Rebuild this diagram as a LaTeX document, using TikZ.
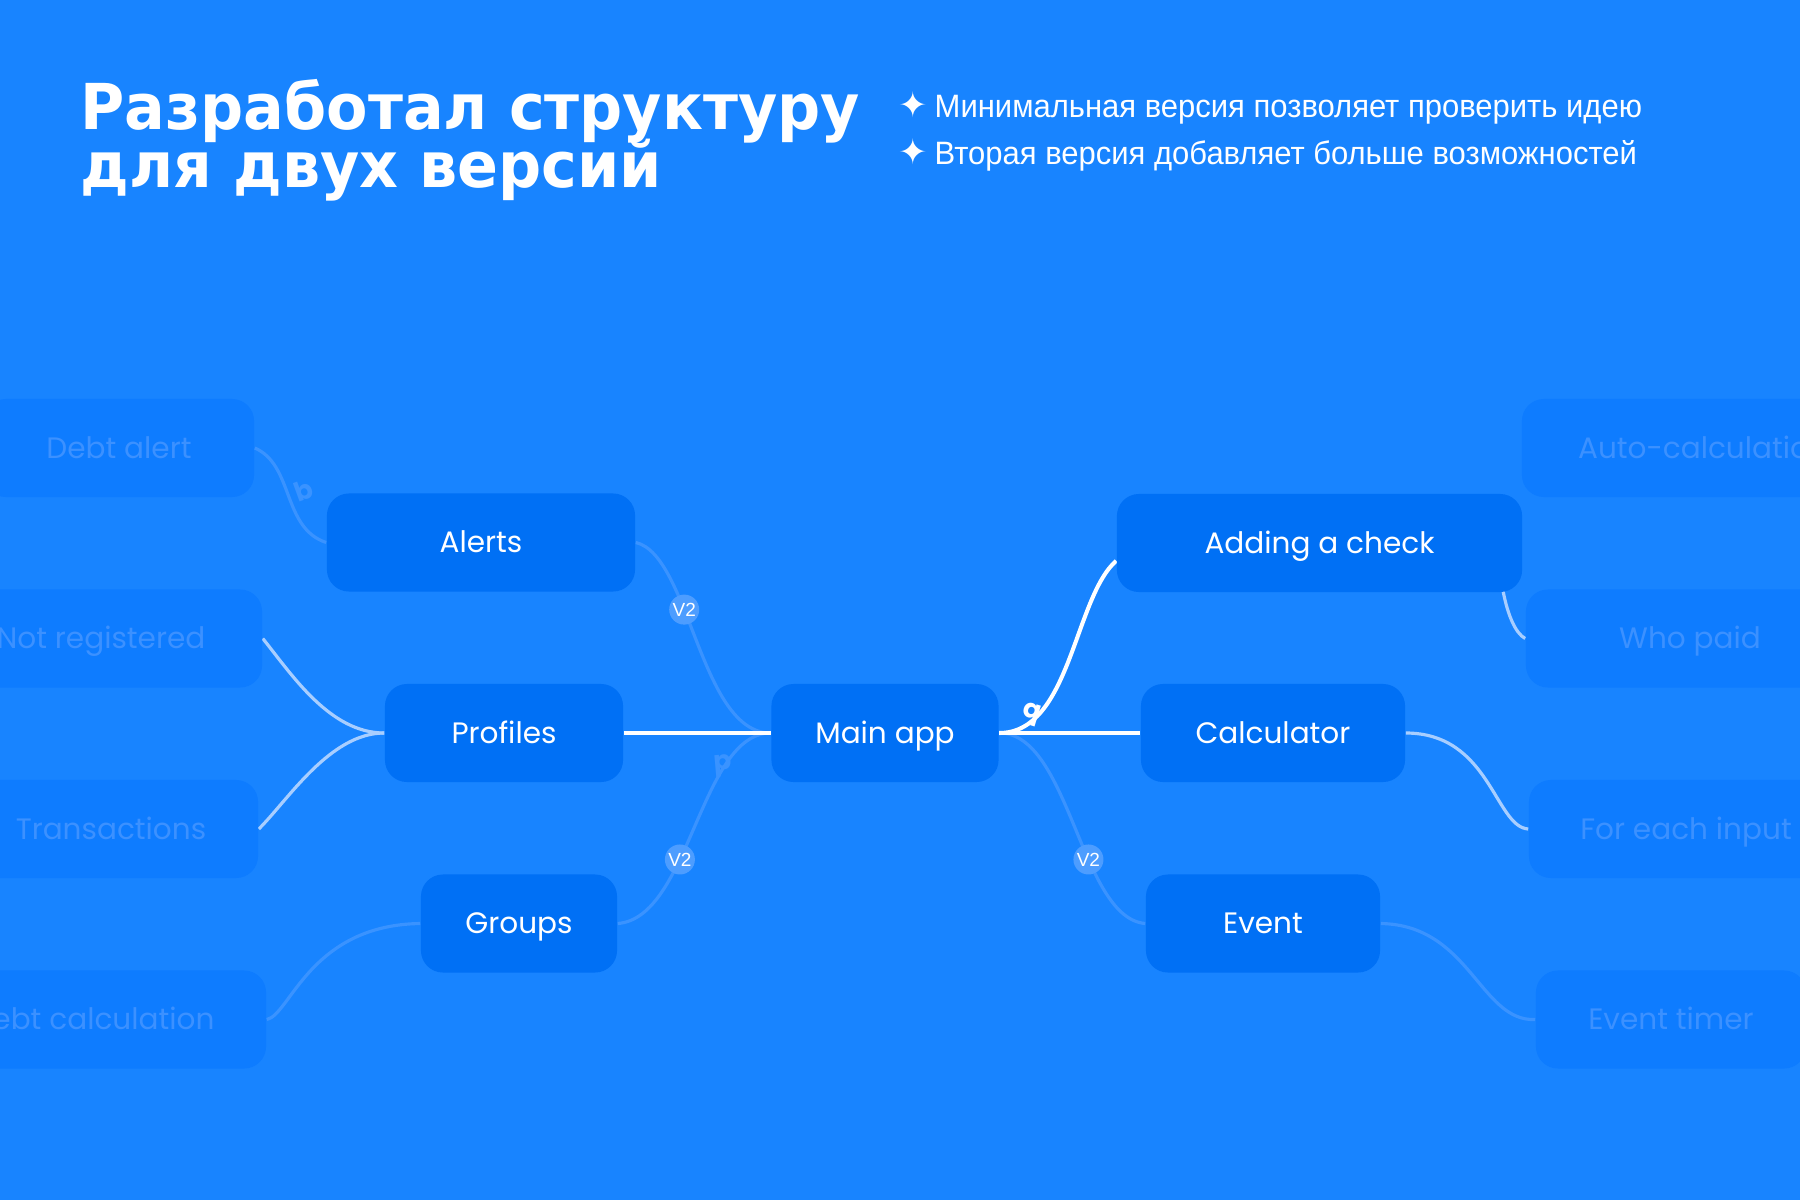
\documentclass[tikz,border=0pt]{standalone}
\usepackage{fontspec}
\setmainfont{Liberation Sans}
\newfontfamily\titlefont{DejaVu Sans}
\newfontfamily\boxfont{Poppins}
\usepackage{tikz}
\pgfdeclarelayer{back}
\pgfsetlayers{back,main}
\definecolor{bgblue}{HTML}{1884FF}
\definecolor{boxblue}{HTML}{0070F5}
\definecolor{ghostfill}{HTML}{0E7CFF}
\definecolor{ghosttext}{HTML}{3C91FF}
\definecolor{fadeline}{HTML}{3A93FF}
\definecolor{lightline}{HTML}{A8CEFF}
\definecolor{badgefill}{HTML}{4D9DFF}

\begin{document}
\begin{tikzpicture}[x=0.01cm, y=-0.01cm,
  box/.style={fill=boxblue, text=white, rounded corners=0.22cm, minimum height=0.98cm, inner sep=0pt,
    text height=5.9pt, text depth=0pt, font=\boxfont\fontsize{8.4}{10}\selectfont},
  ghost/.style={box, fill=ghostfill, text=ghosttext},
  v2/.style={circle, fill=badgefill, text=white, minimum size=0.3cm, inner sep=0pt, font=\fontsize{5.4}{6}\selectfont},
  link/.style={white, line width=1.15pt},
  sublink/.style={lightline, line width=0.9pt},
  faint/.style={fadeline, line width=0.9pt},
  squiggle/.style={inner sep=0pt, font=\boxfont\bfseries\fontsize{7.5}{8}\selectfont}]
  \useasboundingbox (0,0) rectangle (1800,1200);
  \clip (0,0) rectangle (1800,1200);
  \begin{pgfonlayer}{back}
    \fill[bgblue] (0,0) rectangle (1800,1200);
  \end{pgfonlayer}

  % heading and the two points
  \node[anchor=base west, inner sep=0pt, text=white, font=\titlefont\bfseries\fontsize{18}{20}\selectfont] (title1) at (80,129) {\scalebox{0.953}[1]{Разработал структуру}};
  \node[anchor=base west, inner sep=0pt, text=white, font=\titlefont\bfseries\fontsize{18}{20}\selectfont] (title2) at (80,187) {\scalebox{0.953}[1]{для двух версий}};
  \node[inner sep=0pt, text=white, font=\titlefont\fontsize{10}{11}\selectfont] (star1) at (913,105) {✦};
  \node[inner sep=0pt, text=white, font=\titlefont\fontsize{10}{11}\selectfont] (star2) at (913,152) {✦};
  \node[anchor=base west, inner sep=0pt, text=white, font=\fontsize{9.2}{11}\selectfont] (point1) at (934,117) {\scalebox{0.958}[1]{Минимальная версия позволяет проверить идею}};
  \node[anchor=base west, inner sep=0pt, text=white, font=\fontsize{9.2}{11}\selectfont] (point2) at (934,164) {\scalebox{0.958}[1]{Вторая версия добавляет больше возможностей}};

  % mind map
  \node[box, minimum width=2.27cm] (main) at (885,733) {Main app};
  \node[box, minimum width=3.08cm] (alerts) at (481,542.5) {Alerts};
  \node[box, minimum width=2.38cm] (profiles) at (504,733) {Profiles};
  \node[box, minimum width=1.96cm] (groups) at (519,923.5) {Groups};
  \node[box, minimum width=4.05cm] (check) at (1319.5,543) {Adding a check};
  \node[box, minimum width=2.64cm] (calc) at (1273,733) {Calculator};
  \node[box, minimum width=2.34cm] (event) at (1263,923.5) {Event};

  \node[ghost, minimum width=2.70cm] (debtalert) at (119,448) {Debt alert};
  \node[ghost, minimum width=3.22cm] (notreg) at (101,638.5) {Not registered};
  \node[ghost, minimum width=2.94cm] (trans) at (111,829) {Transactions};
  \node[ghost, minimum width=3.46cm] (debtcalc) at (93,1019.5) {Debt calculation};
  \node[ghost, minimum width=3.62cm] (autocalc) at (1703,448) {Auto-calculation};
  \node[ghost, minimum width=3.28cm] (whopaid) at (1690,638.5) {Who paid};
  \node[ghost, minimum width=3.14cm] (eachinput) at (1686,829) {For each input};
  \node[ghost, minimum width=2.70cm] (timer) at (1671,1019.5) {Event timer};

  \begin{pgfonlayer}{back}
    \draw[faint] (main.west) .. controls (700,733) and (690,555) .. (alerts.east) node[v2, pos=0.62] (badge1) {V2};
    \draw[faint] (main.west) .. controls (700,733) and (690,918) .. (groups.east) node[v2, pos=0.62] (badge2) {V2};
    \draw[faint] (main.east) .. controls (1070,733) and (1080,918) .. (event.west) node[v2, pos=0.62] (badge3) {V2};
    \draw[link] (main.west) -- (profiles.east);
    \draw[link] (main.east) -- (calc.west);
    \draw[link] (main.east) .. controls +(71,0) and +(-42,37) .. (check.185);

    \draw[sublink] (profiles.west) .. controls (330,733) and (292,675) .. (notreg.east);
    \draw[sublink] (profiles.west) .. controls (330,733) and (288,800) .. (trans.east);
    \draw[faint] (alerts.west) .. controls (282,528) and (294,465) .. (debtalert.east);
    \draw[faint] (groups.west) .. controls (310,925) and (290,1015) .. (debtcalc.east);
    \draw[sublink] ([xshift=-0.2cm]check.east) .. controls (1495,560) and (1505,628) .. (whopaid.west);
    \draw[sublink] (calc.east) .. controls (1490,733) and (1495,827) .. (eachinput.west);
    \draw[faint] (event.east) .. controls (1470,925) and (1480,1022) .. (timer.west);
  \end{pgfonlayer}

  \node[squiggle, text=fadeline, rotate=20] (mark1) at (304,490) {b};
  \node[squiggle, text=fadeline, rotate=5] (mark2) at (723,766) {p};
  \node[squiggle, text=white, rotate=-17] (mark3) at (1031,714) {q};
\end{tikzpicture}
\end{document}
